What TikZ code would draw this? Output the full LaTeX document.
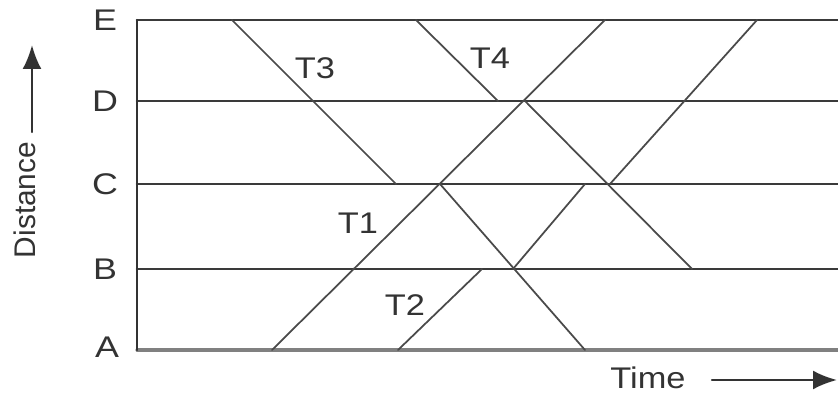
\documentclass[tikz,border=0pt]{standalone}
\usepackage{fontspec}
\setmainfont{Liberation Sans}
\usetikzlibrary{arrows.meta}

\definecolor{inkgray}{HTML}{333333}
\definecolor{trackgray}{HTML}{3A3A3A}
\definecolor{basegray}{HTML}{808080}
\definecolor{pathgray}{HTML}{4A4A4A}

\begin{document}
\begin{tikzpicture}[line cap=round,line join=round,
  levellbl/.style={text=inkgray,font=\fontsize{17}{20}\selectfont,xscale=1.2,inner sep=0pt},
  trainlbl/.style={text=inkgray,font=\fontsize{17}{20}\selectfont,xscale=1.15,inner sep=0pt},
  axislbl/.style={text=inkgray,font=\fontsize{17}{20}\selectfont,inner sep=0pt},
  axisarrow/.style={line width=1.4pt,draw=inkgray,-{Latex[length=4.8mm,width=3.8mm]}}]
  \useasboundingbox (0,0) rectangle (16.76,7.94);
  % stations
  \foreach \y/\n in {7.54/E,5.92/D,4.26/C,2.56/B}{
    \draw[line width=1.5pt,trackgray] (2.74,\y) -- (16.76,\y);
    \node[levellbl] (st\n) at (2.10,\y) {\n};
  }
  \draw[line width=1.8pt,basegray] (2.74,0.94) -- (16.76,0.94);
  \node[levellbl] (stA) at (2.14,1.00) {A};
  \draw[line width=1.3pt,inkgray] (2.74,0.94) -- (2.74,7.54);
  % train paths
  \draw[line width=1pt,pathgray] (4.64,7.54) -- (7.92,4.26);
  \draw[line width=1pt,pathgray] (8.32,7.54) -- (9.96,5.92);
  \draw[line width=1pt,pathgray] (5.44,0.94) -- (12.10,7.54);
  \draw[line width=1pt,pathgray] (10.50,5.92) -- (13.84,2.56);
  \draw[line width=1pt,pathgray] (15.14,7.54) -- (12.20,4.26);
  \draw[line width=1pt,pathgray] (8.80,4.26) -- (11.70,0.94);
  \draw[line width=1pt,pathgray] (7.96,0.94) -- (9.64,2.56);
  \draw[line width=1pt,pathgray] (10.26,2.56) -- (11.70,4.26);
  \node[trainlbl] (t3) at (6.30,6.58) {T3};
  \node[trainlbl] (t4) at (9.80,6.78) {T4};
  \node[trainlbl] (t1) at (7.16,3.48) {T1};
  \node[trainlbl] (t2) at (8.10,1.84) {T2};
  % axes
  \node[axislbl,rotate=90] (dist) at (0.50,3.94) {Distance};
  \coordinate (distfrom) at (0.64,5.30);
  \coordinate (distto) at (0.64,7.04);
  \draw[axisarrow] (distfrom) -- (distto);
  \node[trainlbl] (time) at (12.96,0.38) {Time};
  \coordinate (timefrom) at (14.24,0.34);
  \coordinate (timeto) at (16.74,0.34);
  \draw[axisarrow] (timefrom) -- (timeto);
\end{tikzpicture}
\end{document}
